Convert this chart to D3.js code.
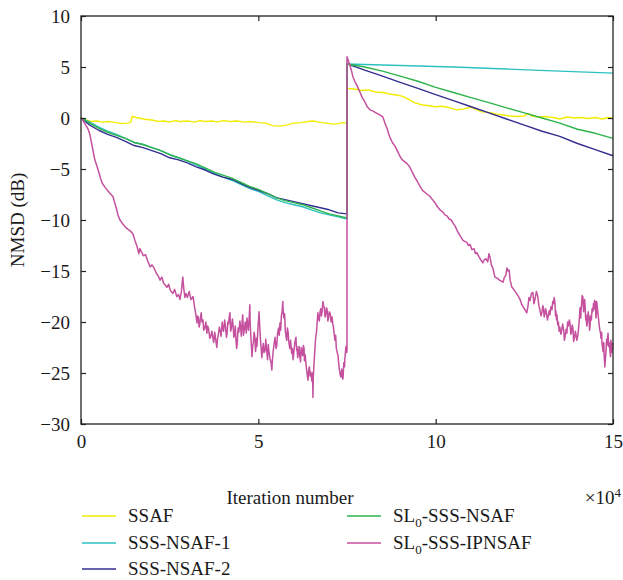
<!DOCTYPE html>
<html>
<head>
<meta charset="utf-8">
<script src="https://cdn.jsdelivr.net/npm/d3@7"></script>
<style>
  body { margin: 0; background: #fff; }
  svg { display: block; }
  text { font-family: "Liberation Serif", "DejaVu Serif", serif; fill: #1a1a1a; }
</style>
</head>
<body>
<svg id="chart" width="623" height="580"></svg>
<script>
// x in units of 1e4 iterations, y = NMSD in dB
const xTicks = [0, 5, 10, 15];
const yTicks = [-30, -25, -20, -15, -10, -5, 0, 5, 10];

const ssaf = [
  [0,0],[0.15,-0.2],[0.3,-0.35],[0.45,-0.3],[0.6,-0.4],[0.8,-0.35],[1.0,-0.45],[1.15,-0.55],[1.3,-0.5],[1.4,-0.45],
  [1.44,0.15],[1.55,0.05],[1.7,-0.05],[1.85,-0.15],[2.0,-0.2],[2.2,-0.35],[2.35,-0.3],[2.5,-0.4],[2.65,-0.25],[2.8,-0.35],
  [3.0,-0.3],[3.2,-0.4],[3.35,-0.25],[3.5,-0.35],[3.7,-0.3],[3.85,-0.4],[4.0,-0.25],[4.2,-0.35],[4.4,-0.3],[4.6,-0.4],
  [4.8,-0.35],[5.0,-0.45],[5.2,-0.5],[5.4,-0.75],[5.6,-0.8],[5.8,-0.7],[6.0,-0.5],[6.2,-0.45],[6.4,-0.35],[6.55,-0.3],
  [6.7,-0.4],[6.9,-0.5],[7.1,-0.6],[7.25,-0.55],[7.4,-0.45],[7.5,-0.5],
  [7.5,2.9],[7.7,2.85],[7.9,2.7],[8.1,2.75],[8.3,2.55],[8.5,2.5],[8.7,2.35],[8.9,2.25],[9.05,2.15],[9.2,1.9],
  [9.4,1.5],[9.6,1.3],[9.8,1.2],[10.0,1.1],[10.2,1.15],[10.4,1.0],[10.6,0.8],[10.8,0.9],[11.0,1.05],[11.1,0.9],
  [11.3,0.6],[11.5,0.55],[11.7,0.4],[11.9,0.3],[12.1,0.2],[12.3,0.15],[12.5,0.2],[12.6,0.45],[12.7,0.2],[12.9,0.1],
  [13.1,0.15],[13.3,0.05],[13.5,-0.1],[13.7,0.1],[13.9,0.0],[14.1,0.05],[14.3,-0.05],[14.5,0.05],[14.7,-0.1],[14.85,0.05],[15,-0.05]
];

const sssNsaf1 = [
  [0,0],[0.25,-0.4],[0.5,-0.9],[0.75,-1.3],[1.0,-1.6],[1.25,-2.0],[1.5,-2.4],[1.75,-2.6],[2.0,-2.9],[2.25,-3.2],
  [2.5,-3.6],[2.75,-3.9],[3.0,-4.2],[3.25,-4.6],[3.5,-5.0],[3.75,-5.4],[4.0,-5.8],[4.25,-6.1],[4.5,-6.5],[4.75,-6.9],
  [5.0,-7.2],[5.25,-7.6],[5.5,-8.0],[5.75,-8.3],[6.0,-8.5],[6.25,-8.7],[6.5,-9.0],[6.75,-9.3],[7.0,-9.5],[7.25,-9.7],[7.5,-9.9],
  [7.5,5.3],[9,5.15],[10.5,5.0],[12,4.8],[13.5,4.6],[15,4.4]
];

const sssNsaf2 = [
  [0,0],[0.25,-0.7],[0.5,-1.2],[0.75,-1.6],[1.0,-1.9],[1.25,-2.3],[1.5,-2.7],[1.75,-2.9],[2.0,-3.2],[2.25,-3.5],
  [2.5,-3.9],[2.75,-4.1],[3.0,-4.4],[3.25,-4.8],[3.5,-5.1],[3.75,-5.5],[4.0,-5.8],[4.25,-6.0],[4.5,-6.4],[4.75,-6.8],
  [5.0,-7.1],[5.25,-7.4],[5.5,-7.8],[5.75,-8.0],[6.0,-8.2],[6.25,-8.4],[6.5,-8.6],[6.75,-8.8],[7.0,-9.0],[7.25,-9.3],[7.5,-9.4],
  [7.5,5.3],[8,4.7],[8.5,4.1],[9,3.5],[9.5,2.9],[10,2.3],[10.5,1.7],[11,1.1],[11.5,0.5],[12,-0.1],
  [12.5,-0.7],[13,-1.3],[13.5,-1.8],[14,-2.5],[14.5,-3.1],[15,-3.7]
];

const sl0SssNsaf = [
  [0,0],[0.25,-0.5],[0.5,-1.0],[0.75,-1.4],[1.0,-1.7],[1.25,-2.0],[1.5,-2.4],[1.75,-2.6],[2.0,-2.9],[2.25,-3.2],
  [2.5,-3.6],[2.75,-3.9],[3.0,-4.2],[3.25,-4.5],[3.5,-4.9],[3.75,-5.3],[4.0,-5.6],[4.25,-5.9],[4.5,-6.3],[4.75,-6.7],
  [5.0,-7.0],[5.25,-7.4],[5.5,-7.8],[5.75,-8.1],[6.0,-8.3],[6.25,-8.5],[6.5,-8.8],[6.75,-9.1],[7.0,-9.4],[7.25,-9.6],[7.5,-9.8],
  [7.5,5.3],[8,5.0],[8.5,4.6],[9,4.1],[9.5,3.6],[10,3.0],[10.5,2.5],[11,2.0],[11.5,1.5],[12,1.0],
  [12.5,0.5],[13,0.0],[13.5,-0.5],[14,-1.1],[14.5,-1.5],[15,-2.0]
];

const sl0SssIpnsaf = [
  [0,0],[0.05,-0.2],[0.1,-0.5],[0.15,-0.8],[0.2,-1.1],[0.25,-1.6],[0.3,-2.5],[0.35,-3.4],[0.39,-4.1],[0.44,-4.6],
  [0.5,-5.3],[0.55,-5.9],[0.6,-6.4],[0.68,-6.8],[0.75,-7.1],[0.82,-7.4],[0.9,-7.7],[0.95,-8.3],[1.0,-8.9],[1.05,-9.6],
  [1.1,-10.0],[1.18,-10.4],[1.25,-10.7],[1.32,-10.9],[1.4,-11.1],[1.47,-11.4],[1.52,-12.0],[1.58,-12.6],[1.63,-13.3],[1.66,-12.8],
  [1.7,-13.1],[1.76,-13.5],[1.82,-13.4],[1.88,-14.0],[1.95,-14.6],[2.0,-14.4],[2.06,-14.7],[2.12,-15.2],[2.18,-15.5],[2.23,-15.9],
  [2.28,-15.6],[2.33,-16.2],[2.38,-16.4],[2.42,-16.6],[2.47,-16.3],[2.52,-16.9],[2.59,-17.2],[2.64,-16.8],[2.7,-17.5],[2.75,-17.3],
  [2.79,-17.8],[2.83,-17.0],[2.87,-15.6],[2.9,-16.8],[2.93,-17.6],[2.96,-17.2],[3.0,-17.6],[3.05,-17.0],[3.1,-17.8],[3.16,-17.5],
  [3.2,-18.5],[3.24,-19.3],[3.27,-20.1],[3.29,-19.4],[3.31,-19.6],[3.33,-20.5],[3.35,-20.2],[3.37,-19.5],[3.39,-19.1],[3.41,-20.0],
  [3.44,-19.8],[3.46,-20.8],[3.49,-20.6],[3.52,-20.0],[3.55,-21.1],[3.57,-20.4],[3.6,-20.7],[3.63,-21.6],[3.66,-21.4],[3.69,-20.9],
  [3.72,-21.6],[3.74,-22.0],[3.77,-21.0],[3.8,-21.8],[3.83,-22.5],[3.85,-21.6],[3.87,-21.3],[3.9,-20.5],[3.92,-20.8],[3.95,-21.4],
  [3.98,-20.0],[4.0,-20.7],[4.02,-20.9],[4.05,-19.8],[4.07,-20.3],[4.1,-21.5],[4.12,-21.1],[4.14,-20.0],[4.16,-20.2],[4.18,-19.5],
  [4.2,-19.1],[4.22,-20.9],[4.24,-20.6],[4.27,-19.7],[4.29,-20.4],[4.31,-21.5],[4.33,-21.2],[4.35,-20.4],[4.37,-21.8],[4.39,-22.6],
  [4.4,-22.3],[4.43,-20.6],[4.45,-21.0],[4.48,-19.9],[4.5,-20.5],[4.52,-21.4],[4.54,-20.1],[4.56,-19.3],[4.58,-21.3],[4.61,-20.6],
  [4.63,-20.0],[4.66,-21.1],[4.68,-19.6],[4.7,-20.2],[4.72,-20.8],[4.74,-19.7],[4.76,-18.3],[4.77,-20.2],[4.79,-21.5],[4.81,-22.6],
  [4.82,-23.4],[4.84,-22.4],[4.86,-22.0],[4.88,-21.0],[4.9,-21.4],[4.92,-22.9],[4.93,-22.6],[4.95,-21.6],[4.96,-22.4],[4.98,-21.2],
  [4.99,-20.5],[5.01,-19.6],[5.02,-19.0],[5.04,-20.5],[5.06,-21.7],[5.08,-22.6],[5.1,-23.5],[5.12,-22.6],[5.14,-22.1],[5.16,-23.0],
  [5.19,-22.8],[5.21,-21.7],[5.24,-23.0],[5.26,-23.7],[5.28,-22.2],[5.3,-22.9],[5.33,-23.6],[5.36,-24.0],[5.38,-24.7],[5.4,-23.6],
  [5.42,-22.8],[5.45,-22.0],[5.47,-21.5],[5.5,-22.6],[5.52,-22.3],[5.54,-21.2],[5.57,-20.6],[5.59,-21.3],[5.61,-20.1],[5.63,-20.8],
  [5.65,-19.4],[5.67,-19.0],[5.69,-18.0],[5.7,-18.9],[5.72,-19.6],[5.74,-19.2],[5.76,-20.8],[5.78,-21.4],[5.8,-21.8],[5.82,-20.6],
  [5.84,-21.0],[5.86,-22.0],[5.89,-22.6],[5.91,-21.8],[5.94,-23.1],[5.96,-22.6],[5.98,-23.7],[6.0,-23.0],[6.02,-22.3],[6.04,-21.8],
  [6.06,-21.5],[6.08,-22.8],[6.09,-22.4],[6.11,-23.5],[6.13,-23.0],[6.15,-22.4],[6.17,-23.4],[6.19,-23.9],[6.21,-22.5],[6.23,-22.9],
  [6.25,-23.3],[6.27,-22.3],[6.29,-22.6],[6.3,-23.8],[6.32,-23.2],[6.34,-24.0],[6.36,-24.6],[6.38,-25.2],[6.4,-25.7],[6.42,-24.8],
  [6.44,-24.4],[6.46,-25.3],[6.48,-24.9],[6.5,-25.5],[6.51,-25.8],[6.53,-25.0],[6.54,-27.4],[6.55,-25.4],[6.57,-24.0],[6.59,-23.0],
  [6.6,-22.4],[6.62,-21.4],[6.64,-21.0],[6.66,-20.0],[6.68,-19.1],[6.7,-19.6],[6.72,-19.9],[6.74,-19.0],[6.76,-18.7],[6.78,-19.4],
  [6.8,-18.9],[6.82,-18.0],[6.84,-18.4],[6.86,-18.6],[6.88,-19.5],[6.9,-19.3],[6.92,-18.6],[6.94,-18.8],[6.96,-19.9],[6.98,-19.6],
  [7.0,-19.0],[7.03,-19.2],[7.05,-20.0],[7.08,-19.5],[7.1,-20.2],[7.12,-20.6],[7.14,-21.2],[7.16,-21.8],[7.18,-21.3],[7.2,-22.6],
  [7.22,-22.9],[7.25,-23.4],[7.27,-24.2],[7.29,-24.8],[7.31,-25.2],[7.33,-25.4],[7.35,-24.6],[7.36,-24.9],[7.38,-25.6],[7.39,-25.4],
  [7.41,-24.0],[7.43,-24.4],[7.44,-23.6],[7.46,-22.8],[7.47,-22.4],[7.49,-23.0],[7.5,-22.8],
  [7.5,6.0],[7.54,5.6],[7.58,5.2],[7.63,4.6],[7.67,4.0],[7.72,3.6],[7.78,3.2],[7.83,2.8],[7.87,2.5],[7.93,2.0],
  [8.0,1.6],[8.07,1.1],[8.15,0.8],[8.22,0.7],[8.32,0.5],[8.42,0.3],[8.51,0.1],[8.57,-0.5],[8.63,-1.0],[8.67,-1.5],
  [8.71,-1.9],[8.78,-2.4],[8.86,-2.8],[8.93,-3.3],[9.0,-3.8],[9.06,-4.1],[9.13,-4.3],[9.2,-4.5],[9.27,-4.8],[9.34,-5.3],
  [9.41,-5.8],[9.48,-6.2],[9.56,-6.7],[9.63,-7.1],[9.7,-7.3],[9.77,-7.5],[9.84,-7.7],[9.91,-8.0],[9.98,-8.3],[10.05,-8.7],
  [10.12,-9.0],[10.2,-9.2],[10.26,-9.5],[10.32,-9.6],[10.38,-9.9],[10.44,-10.0],[10.49,-10.3],[10.55,-10.6],[10.6,-11.0],[10.63,-11.2],
  [10.7,-11.6],[10.77,-12.0],[10.82,-12.1],[10.88,-12.2],[10.92,-12.5],[10.97,-12.4],[11.02,-12.9],[11.08,-12.8],[11.12,-13.3],[11.16,-13.2],
  [11.22,-13.6],[11.27,-13.9],[11.33,-14.2],[11.37,-13.9],[11.42,-13.8],[11.47,-14.1],[11.5,-13.3],[11.53,-13.6],[11.57,-14.4],[11.61,-14.7],
  [11.67,-15.6],[11.73,-15.7],[11.8,-15.9],[11.85,-16.0],[11.9,-16.1],[11.94,-15.6],[11.98,-15.4],[12.01,-14.7],[12.04,-15.0],[12.07,-14.9],
  [12.1,-15.9],[12.15,-16.6],[12.2,-16.8],[12.26,-17.1],[12.32,-17.4],[12.38,-17.8],[12.43,-18.3],[12.5,-18.7],[12.57,-19.1],[12.6,-18.5],
  [12.63,-17.6],[12.66,-17.9],[12.7,-17.2],[12.74,-17.1],[12.77,-18.2],[12.8,-17.8],[12.84,-17.0],[12.88,-17.5],[12.91,-18.4],[12.94,-18.8],
  [12.97,-19.4],[13.0,-19.0],[13.02,-18.4],[13.04,-18.6],[13.06,-19.5],[13.08,-19.2],[13.1,-18.7],[13.12,-19.0],[13.15,-19.8],[13.17,-19.5],
  [13.2,-18.9],[13.22,-19.3],[13.25,-18.5],[13.28,-18.8],[13.3,-18.0],[13.32,-18.2],[13.34,-17.6],[13.36,-18.0],[13.38,-19.4],[13.39,-18.9],
  [13.41,-19.8],[13.42,-19.3],[13.44,-20.3],[13.46,-20.0],[13.48,-20.9],[13.5,-20.5],[13.53,-21.2],[13.55,-20.9],[13.58,-20.2],[13.61,-20.8],
  [13.63,-21.8],[13.65,-21.4],[13.68,-20.7],[13.7,-21.1],[13.72,-20.0],[13.74,-20.4],[13.77,-19.8],[13.79,-20.2],[13.81,-21.2],[13.83,-21.0],
  [13.85,-20.3],[13.87,-20.6],[13.89,-21.9],[13.91,-21.6],[13.94,-20.9],[13.96,-21.3],[13.98,-21.8],[14.01,-21.3],[14.03,-20.6],[14.04,-20.2],
  [14.06,-19.2],[14.07,-18.6],[14.09,-19.6],[14.1,-18.8],[14.12,-18.0],[14.13,-17.4],[14.14,-18.2],[14.15,-17.5],[14.17,-19.0],[14.18,-18.6],
  [14.2,-17.8],[14.21,-18.2],[14.23,-19.8],[14.24,-19.3],[14.26,-20.4],[14.28,-20.0],[14.3,-19.0],[14.32,-19.4],[14.34,-20.8],[14.35,-20.5],
  [14.37,-19.4],[14.39,-19.8],[14.41,-18.7],[14.43,-19.0],[14.45,-18.2],[14.46,-18.8],[14.48,-17.9],[14.5,-18.0],[14.52,-19.6],[14.53,-19.2],
  [14.54,-18.0],[14.55,-18.3],[14.57,-19.0],[14.59,-19.6],[14.61,-20.3],[14.63,-20.8],[14.65,-21.1],[14.66,-21.6],[14.68,-21.0],[14.69,-22.1],
  [14.71,-22.6],[14.72,-22.9],[14.74,-22.0],[14.75,-23.2],[14.76,-23.8],[14.77,-24.4],[14.79,-23.4],[14.8,-23.0],[14.82,-21.7],[14.83,-22.3],
  [14.85,-21.5],[14.86,-21.1],[14.88,-22.4],[14.89,-22.0],[14.91,-22.7],[14.93,-23.4],[14.94,-21.8],[14.96,-22.4],[14.97,-23.0],[14.99,-22.1],
  [15.0,-22.3]
];

const series = [
  { name: ["SSAF"], data: ssaf, color: "#f3ec00", width: 1.4 },
  { name: ["SSS-NSAF-1"], data: sssNsaf1, color: "#2cc0c0", width: 1.4 },
  { name: ["SSS-NSAF-2"], data: sssNsaf2, color: "#342e90", width: 1.4 },
  { name: ["SL", "0", "-SSS-NSAF"], data: sl0SssNsaf, color: "#2eb34b", width: 1.4 },
  { name: ["SL", "0", "-SSS-IPNSAF"], data: sl0SssIpnsaf, color: "#c4509e", width: 1.5 }
];

const svg = d3.select("#chart"),
      plotL = 81, plotR = 613, plotT = 16, plotB = 424,
      axisColor = "#222",
      fontSize = 19,
      serif = '"Liberation Serif", "DejaVu Serif", serif';

const x = d3.scaleLinear().domain([0, 15]).range([plotL, plotR]);
const y = d3.scaleLinear().domain([-30, 10]).range([plotB, plotT]);

const line = d3.line().x(d => x(d[0])).y(d => y(d[1]));

// curves
const plot = svg.append("g");
series.forEach(s => {
  plot.append("path")
    .datum(s.data)
    .attr("d", line)
    .attr("fill", "none")
    .attr("stroke", s.color)
    .attr("stroke-width", s.width)
    .attr("stroke-linejoin", "round");
});

// axes, ticks pointing inward
function styleAxis(g) {
  g.attr("font-family", serif).attr("font-size", fontSize);
  g.select(".domain").remove();
  g.selectAll(".tick line").attr("stroke", axisColor).attr("stroke-width", 1.2);
  g.selectAll(".tick text").attr("fill", "#1a1a1a");
}

svg.append("g").attr("transform", `translate(0,${plotB})`)
  .call(d3.axisBottom(x).tickValues(xTicks).tickSizeInner(-5).tickSizeOuter(0).tickPadding(11))
  .call(styleAxis);
svg.append("g").attr("transform", `translate(0,${plotT})`)
  .call(d3.axisTop(x).tickValues(xTicks).tickSizeInner(-5).tickSizeOuter(0).tickFormat(""))
  .call(styleAxis);
svg.append("g").attr("transform", `translate(${plotL},0)`)
  .call(d3.axisLeft(y).tickValues(yTicks).tickSizeInner(-5).tickSizeOuter(0).tickPadding(11)
    .tickFormat(d => d < 0 ? "\u2212" + Math.abs(d) : d))
  .call(styleAxis);
svg.append("g").attr("transform", `translate(${plotR},0)`)
  .call(d3.axisRight(y).tickValues(yTicks).tickSizeInner(-5).tickSizeOuter(0).tickFormat(""))
  .call(styleAxis);

svg.append("rect")
  .attr("x", plotL).attr("y", plotT)
  .attr("width", plotR - plotL).attr("height", plotB - plotT)
  .attr("fill", "none").attr("stroke", axisColor).attr("stroke-width", 1.3);

// axis labels
svg.append("text")
  .attr("transform", `translate(24,${(plotT + plotB) / 2}) rotate(-90)`)
  .attr("text-anchor", "middle")
  .attr("font-size", fontSize)
  .text("NMSD (dB)");

svg.append("text")
  .attr("x", 290).attr("y", 504)
  .attr("text-anchor", "middle")
  .attr("font-size", fontSize)
  .text("Iteration number");

const mult = svg.append("text")
  .attr("x", plotR + 8).attr("y", 504)
  .attr("text-anchor", "end")
  .attr("font-size", fontSize);
mult.append("tspan").text("\u00d710");
mult.append("tspan").attr("dy", -7).attr("font-size", 13).text("4");

// legend, two columns
const legendPos = [
  { lx: 82, ty: 516 }, { lx: 82, ty: 543 }, { lx: 82, ty: 569 },
  { lx: 347, ty: 516 }, { lx: 347, ty: 543 }
];

series.forEach((s, i) => {
  const p = legendPos[i];
  const g = svg.append("g");
  g.append("line")
    .attr("x1", p.lx).attr("x2", p.lx + 34)
    .attr("y1", p.ty).attr("y2", p.ty)
    .attr("stroke", s.color).attr("stroke-width", 1.5);
  const t = g.append("text")
    .attr("x", p.lx + 46).attr("y", p.ty + 6)
    .attr("font-size", fontSize);
  t.append("tspan").text(s.name[0]);
  if (s.name.length > 1) {
    t.append("tspan").attr("dy", 5).attr("font-size", 13).text(s.name[1]);
    t.append("tspan").attr("dy", -5).text(s.name[2]);
  }
});
</script>
</body>
</html>
